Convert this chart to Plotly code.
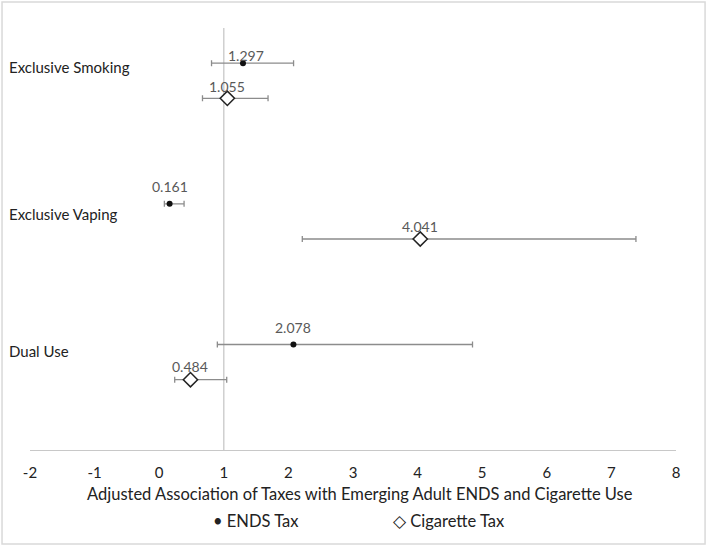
import plotly.graph_objects as go

categories = ["Exclusive Smoking", "Exclusive Vaping", "Dual Use"]
ends_vals = [1.297, 0.161, 2.078]
ends_lo = [0.81, 0.08, 0.90]
ends_hi = [2.08, 0.385, 4.85]
cig_vals = [1.055, 4.041, 0.484]
cig_lo = [0.67, 2.215, 0.24]
cig_hi = [1.685, 7.38, 1.045]
x_ticks = [-2, -1, 0, 1, 2, 3, 4, 5, 6, 7, 8]
legend_labels = ["• ENDS Tax", "◇ Cigarette Tax"]

ends_y = [11, 7, 3]
cig_y = [10, 6, 2]
label_y = [10.9, 6.72, 2.82]
ends_label_shift = [(3, 8), (0, 17), (0, 17)]
cig_label_shift = [(0, 12), (0, 13), (0, 13)]

FONT = "Lato, Carlito, 'Open Sans', sans-serif"
ERR = "#8c8c8c"
LBL = "#595959"

fig = go.Figure()
fig.add_trace(go.Scatter(
    x=ends_vals, y=ends_y, mode="markers", name="ENDS Tax",
    marker=dict(symbol="circle", size=6, color="#111111"),
    error_x=dict(type="data", symmetric=False,
                 array=[h - v for h, v in zip(ends_hi, ends_vals)],
                 arrayminus=[v - l for l, v in zip(ends_lo, ends_vals)],
                 color=ERR, thickness=1.3, width=3),
))
fig.add_trace(go.Scatter(
    x=cig_vals, y=cig_y, mode="markers", name="Cigarette Tax",
    marker=dict(symbol="diamond", size=11, color="white", line=dict(color="#222222", width=1.5)),
    error_x=dict(type="data", symmetric=False,
                 array=[h - v for h, v in zip(cig_hi, cig_vals)],
                 arrayminus=[v - l for l, v in zip(cig_lo, cig_vals)],
                 color=ERR, thickness=1.3, width=3),
))

for vals, ys, shifts in ((ends_vals, ends_y, ends_label_shift), (cig_vals, cig_y, cig_label_shift)):
    for v, y, (dx, dy) in zip(vals, ys, shifts):
        fig.add_annotation(text=f"{v:.3f}", x=v, y=y, xref="x", yref="y",
                           xshift=dx, yshift=dy, showarrow=False,
                           xanchor="center", yanchor="middle",
                           font=dict(size=14, color=LBL, family=FONT))

# vertical reference line at 1
fig.add_shape(type="line", xref="x", yref="y", x0=1, x1=1, y0=0, y1=12,
              line=dict(color="#c8c8c8", width=1.3), layer="below")

for c, y in zip(categories, label_y):
    fig.add_annotation(text=c, x=-0.0356, xref="paper", y=y, yref="y",
                       xanchor="left", yanchor="middle", showarrow=False,
                       font=dict(size=15, color="#222222", family=FONT))

fig.add_annotation(text="Adjusted Association of Taxes with Emerging Adult ENDS and Cigarette Use",
                   x=0.5116, y=-0.104, xref="paper", yref="paper", showarrow=False,
                   xanchor="center", yanchor="middle",
                   font=dict(size=16.5, color="#222222", family=FONT))

for txt, lx in zip(legend_labels, [0.35, 0.648]):
    fig.add_annotation(text=txt, x=lx, y=-0.168, xref="paper", yref="paper", showarrow=False,
                       xanchor="center", yanchor="middle",
                       font=dict(size=16.5, color="#222222", family=FONT))

# outer border
fig.add_shape(type="rect", xref="paper", yref="paper",
              x0=-0.0433, x1=1.045, y0=-0.2227, y1=1.0616,
              line=dict(color="#d9d9d9", width=1.5))

fig.update_layout(
    width=709, height=546,
    margin=dict(l=30, r=33, t=28, b=96),
    paper_bgcolor="white", plot_bgcolor="white",
    font=dict(family=FONT, color="#222222"),
    xaxis=dict(range=[-2, 8], tickvals=x_ticks, ticktext=[str(t) for t in x_ticks],
               showgrid=False, zeroline=False, showline=True, linecolor="#c8c8c8",
               linewidth=1.3, ticks="", tickfont=dict(size=15, color="#222222"),
               ticklabelstandoff=9, fixedrange=True),
    yaxis=dict(range=[0, 12], showticklabels=False, showgrid=False, zeroline=False,
               showline=False, ticks="", fixedrange=True),
    showlegend=False,
)

fig.write_html("out.html", config={"displayModeBar": False},
               post_script="document.body.style.margin='0';document.body.style.overflow='hidden';")
